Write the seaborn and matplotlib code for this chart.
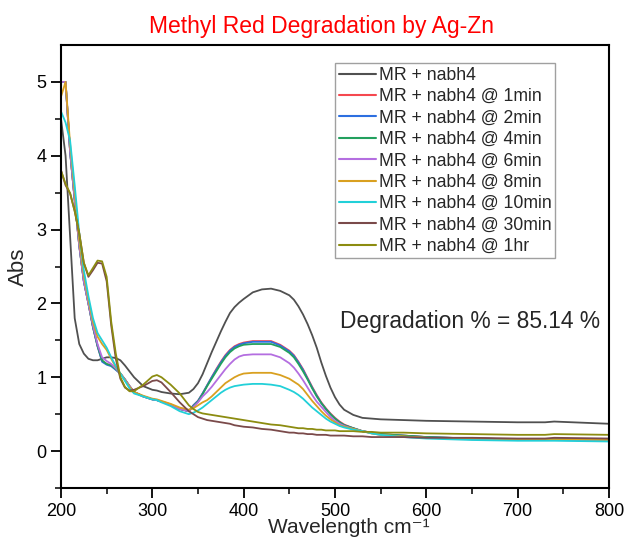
import numpy as np
import pandas as pd
import matplotlib
matplotlib.use("Agg")
import matplotlib.pyplot as plt
import seaborn as sns

wavelength = [200, 205, 210, 215, 220, 225, 230, 235, 240, 245, 250, 255, 260, 265, 270, 275, 280,
              290, 300, 305, 310, 320, 330, 340,
              345, 350, 355, 360, 365, 370, 375, 380, 385, 390, 395, 400,
              410, 420, 430, 440, 450,
              455, 460, 465, 470, 475, 480, 485, 490, 495, 500, 505, 510,
              520, 530, 540, 550, 575, 600, 650, 700, 730, 740, 800]

mr = [4.50, 4.00, 2.90, 1.80, 1.45, 1.32, 1.25, 1.23, 1.23, 1.25, 1.27, 1.27, 1.26, 1.23, 1.16, 1.08, 1.00,
      0.88, 0.83, 0.82, 0.80, 0.78, 0.77, 0.79,
      0.84, 0.92, 1.04, 1.19, 1.34, 1.48, 1.62, 1.75, 1.87, 1.95, 2.01, 2.06,
      2.15, 2.19, 2.20, 2.17, 2.11,
      2.05, 1.96, 1.85, 1.72, 1.57, 1.40, 1.20, 1.02, 0.86, 0.73, 0.63, 0.56,
      0.49, 0.45, 0.44, 0.43, 0.42, 0.41, 0.40, 0.39, 0.39, 0.40, 0.37]

min1 = [5.00, 5.00, 4.05, 3.40, 2.78, 2.30, 2.00, 1.68, 1.42, 1.22, 1.18, 1.16, 1.11, 1.05, 0.97, 0.88, 0.80,
        0.74, 0.70, 0.69, 0.67, 0.63, 0.57, 0.54,
        0.62, 0.68, 0.78, 0.89, 1.00, 1.11, 1.21, 1.30, 1.37, 1.42, 1.45, 1.47,
        1.49, 1.49, 1.49, 1.44, 1.36,
        1.30, 1.21, 1.11, 0.99, 0.87, 0.76, 0.66, 0.58, 0.51, 0.45, 0.40, 0.36,
        0.31, 0.27, 0.25, 0.23, 0.21, 0.19, 0.17, 0.16, 0.16, 0.16, 0.15]

min2 = [5.00, 5.00, 4.05, 3.40, 2.78, 2.30, 2.00, 1.68, 1.42, 1.21, 1.17, 1.15, 1.10, 1.05, 0.97, 0.88, 0.80,
        0.74, 0.70, 0.69, 0.67, 0.63, 0.57, 0.54,
        0.62, 0.68, 0.78, 0.89, 1.00, 1.10, 1.20, 1.29, 1.36, 1.41, 1.44, 1.46,
        1.48, 1.48, 1.48, 1.43, 1.35,
        1.29, 1.20, 1.10, 0.98, 0.86, 0.75, 0.65, 0.57, 0.50, 0.44, 0.39, 0.35,
        0.31, 0.27, 0.25, 0.23, 0.21, 0.19, 0.17, 0.16, 0.16, 0.16, 0.15]

min4 = [5.00, 5.00, 4.05, 3.40, 2.78, 2.30, 2.00, 1.68, 1.43, 1.23, 1.18, 1.16, 1.11, 1.05, 0.97, 0.88, 0.80,
        0.74, 0.70, 0.69, 0.67, 0.63, 0.57, 0.54,
        0.61, 0.67, 0.77, 0.88, 0.98, 1.08, 1.18, 1.27, 1.34, 1.39, 1.42, 1.44,
        1.45, 1.45, 1.45, 1.41, 1.33,
        1.27, 1.18, 1.08, 0.97, 0.85, 0.74, 0.65, 0.57, 0.50, 0.44, 0.39, 0.35,
        0.31, 0.27, 0.25, 0.23, 0.21, 0.19, 0.17, 0.16, 0.16, 0.16, 0.15]

min6 = [5.00, 5.00, 4.05, 3.40, 2.78, 2.30, 2.00, 1.70, 1.45, 1.27, 1.22, 1.18, 1.12, 1.05, 0.97, 0.88, 0.80,
        0.74, 0.70, 0.69, 0.67, 0.63, 0.57, 0.54,
        0.60, 0.66, 0.74, 0.80, 0.87, 0.95, 1.03, 1.11, 1.18, 1.24, 1.28, 1.30,
        1.31, 1.31, 1.31, 1.27, 1.19,
        1.13, 1.05, 0.96, 0.86, 0.76, 0.67, 0.60, 0.53, 0.46, 0.41, 0.37, 0.34,
        0.30, 0.27, 0.24, 0.22, 0.19, 0.18, 0.16, 0.15, 0.15, 0.15, 0.14]

min8 = [4.80, 5.00, 4.15, 3.50, 2.85, 2.38, 2.05, 1.75, 1.55, 1.45, 1.37, 1.25, 1.14, 1.05, 0.96, 0.87, 0.80,
        0.75, 0.71, 0.70, 0.68, 0.64, 0.59, 0.56,
        0.58, 0.62, 0.66, 0.69, 0.74, 0.80, 0.86, 0.92, 0.96, 1.00, 1.03, 1.05,
        1.06, 1.06, 1.06, 1.03, 0.98,
        0.94, 0.90, 0.84, 0.76, 0.68, 0.61, 0.54, 0.48, 0.43, 0.39, 0.35, 0.33,
        0.30, 0.27, 0.24, 0.22, 0.20, 0.18, 0.17, 0.16, 0.16, 0.16, 0.15]

min10 = [4.60, 4.45, 4.20, 3.60, 2.95, 2.45, 2.10, 1.80, 1.60, 1.50, 1.40, 1.27, 1.15, 1.05, 0.95, 0.85, 0.78,
         0.74, 0.70, 0.69, 0.66, 0.61, 0.54, 0.50,
         0.52, 0.55, 0.59, 0.64, 0.69, 0.74, 0.79, 0.83, 0.86, 0.88, 0.89, 0.90,
         0.91, 0.91, 0.90, 0.88, 0.83,
         0.80, 0.76, 0.71, 0.65, 0.59, 0.54, 0.49, 0.44, 0.40, 0.37, 0.34, 0.32,
         0.29, 0.27, 0.24, 0.22, 0.19, 0.17, 0.15, 0.14, 0.14, 0.14, 0.13]

min30 = [3.80, 3.60, 3.49, 3.25, 2.95, 2.55, 2.36, 2.45, 2.55, 2.54, 2.30, 1.70, 1.25, 0.98, 0.86, 0.82, 0.83,
         0.88, 0.95, 0.96, 0.93, 0.80, 0.66, 0.54,
         0.50, 0.46, 0.44, 0.42, 0.41, 0.40, 0.39, 0.38, 0.37, 0.35, 0.34, 0.33,
         0.32, 0.30, 0.29, 0.27, 0.25,
         0.25, 0.24, 0.24, 0.23, 0.23, 0.22, 0.22, 0.22, 0.21, 0.21, 0.21, 0.21,
         0.20, 0.20, 0.19, 0.19, 0.19, 0.18, 0.18, 0.17, 0.17, 0.18, 0.17]

hr1 = [3.80, 3.62, 3.49, 3.25, 2.95, 2.55, 2.38, 2.48, 2.58, 2.57, 2.36, 1.75, 1.32, 1.00, 0.87, 0.81, 0.81,
       0.90, 1.01, 1.03, 1.00, 0.90, 0.78, 0.62,
       0.57, 0.53, 0.51, 0.50, 0.49, 0.48, 0.47, 0.46, 0.45, 0.44, 0.43, 0.42,
       0.40, 0.38, 0.36, 0.35, 0.33,
       0.32, 0.31, 0.31, 0.30, 0.30, 0.29, 0.29, 0.28, 0.28, 0.28, 0.27, 0.27,
       0.27, 0.26, 0.26, 0.25, 0.25, 0.24, 0.23, 0.22, 0.22, 0.23, 0.22]

labels = ["MR + nabh4", "MR + nabh4 @ 1min", "MR + nabh4 @ 2min", "MR + nabh4 @ 4min",
          "MR + nabh4 @ 6min", "MR + nabh4 @ 8min", "MR + nabh4 @ 10min",
          "MR + nabh4 @ 30min", "MR + nabh4 @ 1hr"]
series = [mr, min1, min2, min4, min6, min8, min10, min30, hr1]
colors = ["#505050", "#f5484f", "#2d6fe0", "#23a05e", "#b46ee0", "#d9a020", "#22d0d8", "#7a4a4a", "#8c8c10"]

x_ticks = [200, 300, 400, 500, 600, 700, 800]
y_ticks = [0, 1, 2, 3, 4, 5]

frames = [pd.DataFrame({"Wavelength": wavelength, "Abs": vals, "Sample": lab})
          for lab, vals in zip(labels, series)]
df = pd.concat(frames, ignore_index=True)

sns.set_style("ticks")
plt.rcParams["font.family"] = ["Liberation Sans", "DejaVu Sans"]

fig = plt.figure(figsize=(6.27, 5.39), dpi=100)
ax = fig.add_axes([61/627, 1-488/539, (609-61)/627, (488-45)/539])

sns.lineplot(data=df, x="Wavelength", y="Abs", hue="Sample", hue_order=labels,
             palette=colors, linewidth=1.3, ax=ax, sort=False, estimator=None)

ax.set_xlim(200, 800)
ax.set_ylim(-0.5, 5.5)
ax.set_xticks(x_ticks)
ax.set_yticks(y_ticks)
ax.set_xticks([250, 350, 450, 550, 650, 750], minor=True)
ax.set_yticks([-0.5, 0.5, 1.5, 2.5, 3.5, 4.5], minor=True)
ax.tick_params(axis="both", which="major", direction="out", length=7, width=1.3, labelsize=13, colors="black")
ax.tick_params(axis="both", which="minor", direction="out", length=4, width=1.3)
ax.tick_params(top=False, right=False)
for sp in ax.spines.values():
    sp.set_linewidth(1.5)
    sp.set_color("black")
    sp.set_visible(True)

ax.set_xlabel("Wavelength cm\u207b\u00b9", fontsize=15)
ax.xaxis.set_label_coords(0.526, -0.068)
ax.set_ylabel("Abs", fontsize=16, labelpad=5)
fig.text(321.5/627, 1-33/539, "Methyl Red Degradation by Ag-Zn", color="red", fontsize=16.5,
         ha="center", va="baseline")

ax.text(505, 1.75, "Degradation % = 85.14 %", fontsize=16.4, va="center", ha="left")

leg = ax.legend(loc="upper left", bbox_to_anchor=(0.5, 0.959), fontsize=12.7, frameon=True,
                fancybox=False, edgecolor="#888888", handlelength=2.1, handletextpad=0.2,
                labelspacing=0.25, borderpad=0.2, borderaxespad=0)
leg.get_frame().set_linewidth(1.0)
for line in leg.get_lines():
    line.set_linewidth(1.5)

fig.savefig("out.png", dpi=100)
